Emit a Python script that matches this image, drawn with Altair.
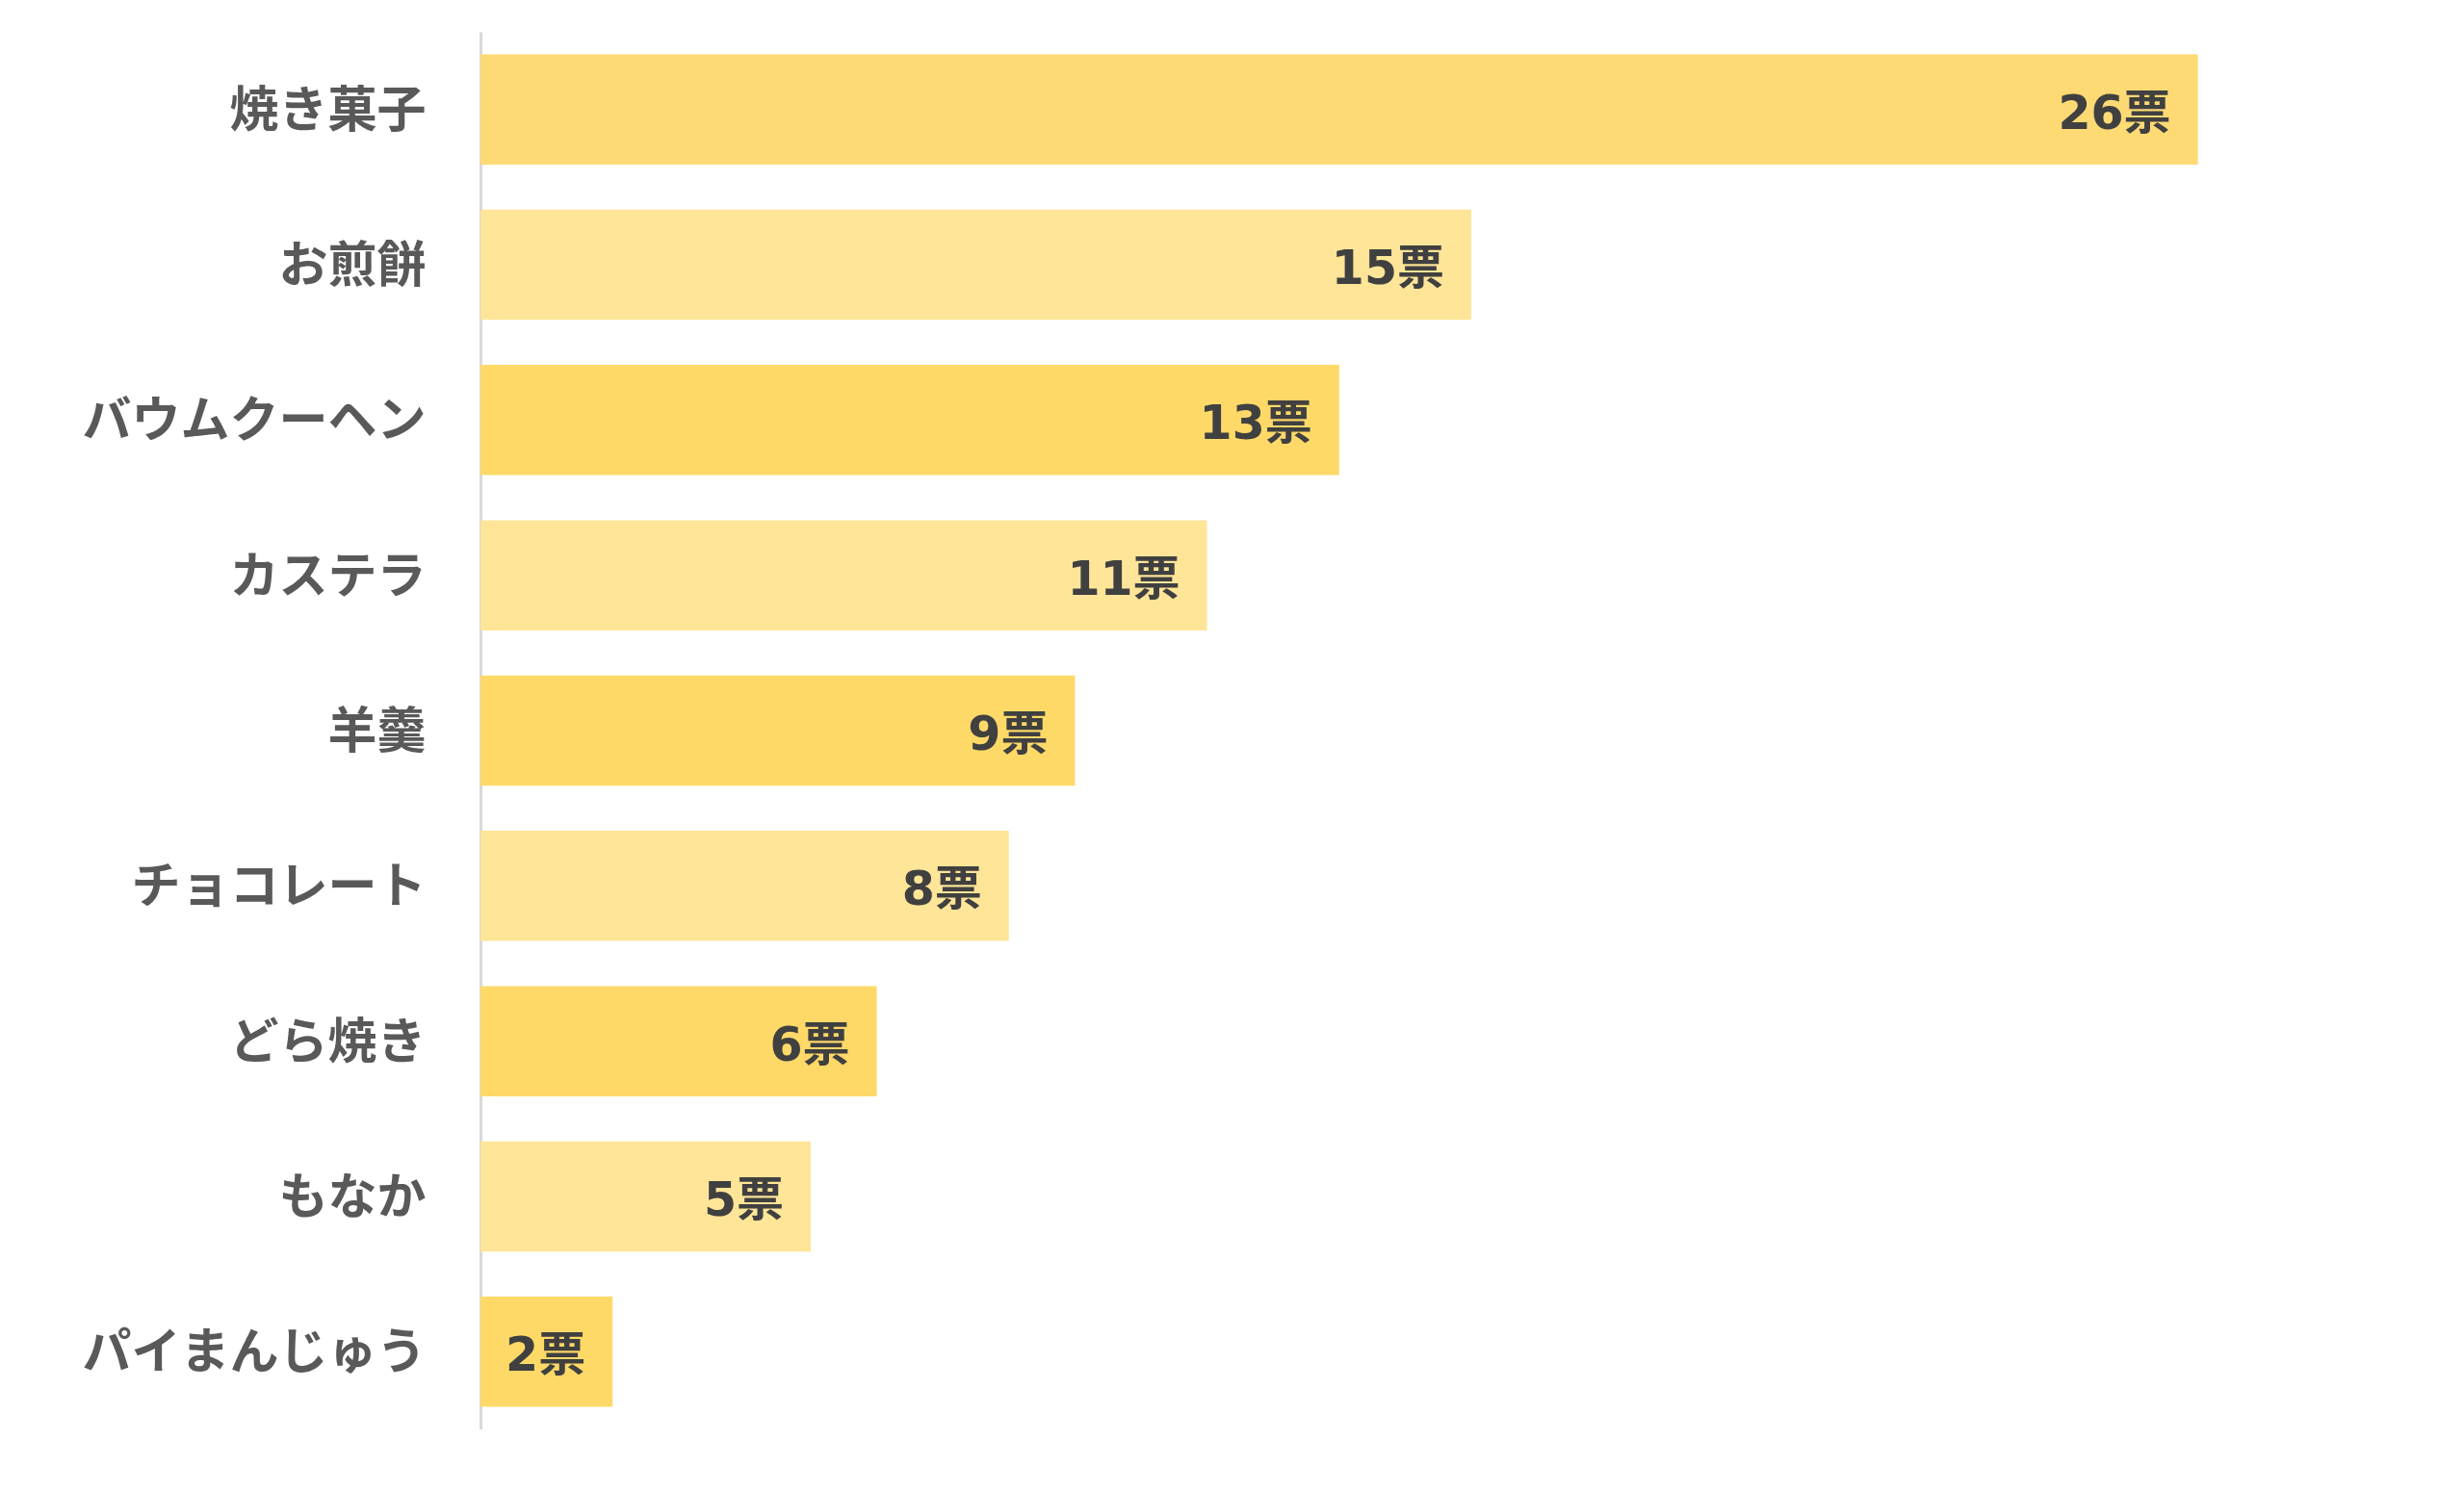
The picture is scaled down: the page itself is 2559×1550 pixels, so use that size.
import altair as alt
import pandas as pd

categories = ["焼き菓子", "お煎餅", "バウムクーヘン", "カステラ", "羊羹", "チョコレート", "どら焼き", "もなか", "パイまんじゅう"]
votes = [26, 15, 13, 11, 9, 8, 6, 5, 2]
labels = [f"{v}票" for v in votes]
bar_colors = ["#FDDA74", "#FEE598", "#FED968", "#FEE598", "#FED968", "#FEE598", "#FED968", "#FEE598", "#FED968"]

df = pd.DataFrame({"cat": categories, "votes": votes, "label": labels, "color": bar_colors})

y = alt.Y("cat:N", sort=categories, title=None,
          scale=alt.Scale(paddingInner=0.29, paddingOuter=0.145),
          axis=alt.Axis(domainColor="#D9D9D9", domainWidth=3, ticks=False, grid=False,
                        labelFont="Noto Sans CJK JP", labelFontSize=51, labelFontWeight="bold",
                        labelColor="#595959", labelPadding=57, labelLimit=600, labelOffset=3))
x = alt.X("votes:Q", scale=alt.Scale(domain=[0, 30], nice=False), axis=None, title=None)

bars = alt.Chart(df).mark_bar(cornerRadius=0).encode(
    y=y, x=x, color=alt.Color("color:N", scale=None)
)
text = alt.Chart(df).mark_text(
    align="right", baseline="middle", dx=-28, dy=5,
    font="DejaVu Sans, Noto Sans CJK JP", fontSize=49, fontWeight="bold", color="#404040"
).encode(y=y, x=x, text="label:N")

chart = alt.layer(bars, text).properties(
    width=2058, height=1452,
    background="white",
    autosize=alt.AutoSizeParams(type="none"),
    padding={"left": 499, "top": 33, "right": 0, "bottom": 0},
).configure_view(stroke="transparent", strokeWidth=0).configure_axis(grid=False)

chart.save("out.html", embed_options={"renderer": "svg", "actions": False})
